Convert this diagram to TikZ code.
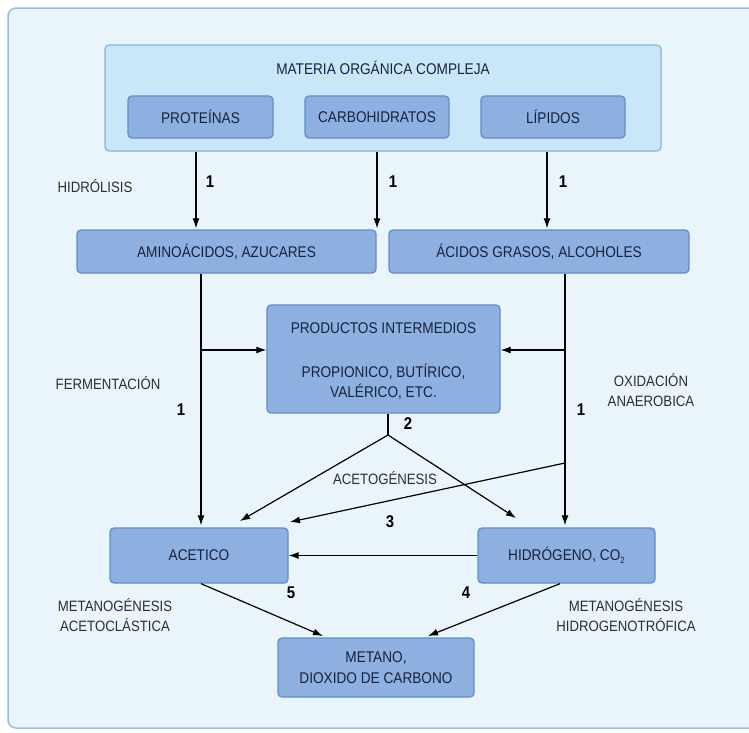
\documentclass[tikz,border=0pt]{standalone}
\usepackage{fontspec}
\setmainfont{Liberation Sans}[FakeStretch=0.88]
\usetikzlibrary{arrows.meta,calc}
\definecolor{framebg}{HTML}{EAF5FB}
\definecolor{framebd}{HTML}{8EC5D6}
\definecolor{matbg}{HTML}{C9E7F8}
\definecolor{matbd}{HTML}{86B7DA}
\definecolor{boxbg}{HTML}{8DB0E0}
\definecolor{boxbd}{HTML}{5F8FC8}
\definecolor{boxtxt}{HTML}{18213F}
\definecolor{lbltxt}{HTML}{2E2E2E}
\tikzset{
  stagebox/.style={draw=boxbd,fill=boxbg,line width=1.3pt,rounded corners=4pt,
    text=boxtxt,font=\fontsize{15.5}{18}\selectfont,align=center,inner sep=0pt},
  arr/.style={line width=1.2pt,-{Latex[length=10pt,width=7pt]}},
  plain/.style={line width=1.2pt},
  num/.style={font=\fontsize{17}{19}\selectfont\bfseries,text=black},
  lbl/.style={font=\fontsize{15}{20}\selectfont,text=lbltxt,align=center}
}
\begin{document}
\begin{tikzpicture}[x=1pt,y=-1pt]
\useasboundingbox (0,0) rectangle (749,732);
\fill[white] (0,0) rectangle (749,732);
\begin{scope}
\clip (0,0) rectangle (749,732);
\draw[draw=framebd,fill=framebg,line width=1.5pt,rounded corners=8pt] (8,8) rectangle (770,728);
\end{scope}
% big box
\node[draw=matbd,fill=matbg,line width=1.3pt,rounded corners=4pt,minimum width=556pt,minimum height=106pt,inner sep=0pt] (mat) at (383,98) {};
\node[text=boxtxt,font=\fontsize{15.5}{18}\selectfont] (matlbl) at (383,68) {MATERIA ORGÁNICA COMPLEJA};
\node[stagebox,minimum width=145pt,minimum height=42pt] (prot) at (200.5,117) {PROTEÍNAS};
\node[stagebox,minimum width=144pt,minimum height=42pt] (carb) at (377,117) {CARBOHIDRATOS};
\node[stagebox,minimum width=144pt,minimum height=42pt] (lip) at (553,117) {LÍPIDOS};
% second row
\node[stagebox,minimum width=299pt,minimum height=43pt] (amino) at (226.5,251.5) {AMINOÁCIDOS, AZUCARES};
\node[stagebox,minimum width=300pt,minimum height=43pt] (acid) at (539,251.5) {ÁCIDOS GRASOS, ALCOHOLES};
% intermediates
\node[stagebox,minimum width=233pt,minimum height=108pt] (prod) at (383.5,359) {};
\node[text=boxtxt,font=\fontsize{15.5}{18}\selectfont] (prodA) at (383.5,328) {PRODUCTOS INTERMEDIOS};
\node[text=boxtxt,font=\fontsize{15.5}{20}\selectfont,align=center] (prodB) at (383.5,382) {PROPIONICO, BUTÍRICO,\\VALÉRICO, ETC.};
% third row
\node[stagebox,minimum width=178pt,minimum height=55pt] (acet) at (199,555.5) {ACETICO};
\node[stagebox,minimum width=177pt,minimum height=55pt] (hidro) at (566.5,555.5) {HIDRÓGENO, CO\raisebox{-3pt}{\fontsize{9}{9}\selectfont 2}};
% final
\node[stagebox,minimum width=196pt,minimum height=59pt,font=\fontsize{15.5}{21}\selectfont] (met) at (376,667.5) {METANO,\\DIOXIDO DE CARBONO};
% coordinates
\coordinate (h1) at (196,0);
\coordinate (h2) at (377,0);
\coordinate (h3) at (547,0);
\coordinate (xa) at (201,0);
\coordinate (xb) at (565,0);
\coordinate (ja) at (201,350);
\coordinate (jb) at (565,350);
\coordinate (sp) at (388,435);
\coordinate (dg) at (565,463);
\coordinate (tl) at (240,521);
\coordinate (tr) at (516,518);
\coordinate (td) at (290,522);
\coordinate (ma) at (201,0);
\coordinate (mh) at (560,0);
\coordinate (mt1) at (323,636);
\coordinate (mt2) at (428,636);
% hydrolysis arrows
\draw[arr] (mat.south -| h1) -- ($(amino.north -| h1)+(0,-1)$);
\draw[arr] (mat.south -| h2) -- ($(amino.north -| h2)+(0,-1)$);
\draw[arr] (mat.south -| h3) -- ($(acid.north -| h3)+(0,-1)$);
% verticals
\draw[arr] (amino.south -| xa) -- ($(acet.north -| xa)+(0,-2)$);
\draw[arr] (acid.south -| xb) -- ($(hidro.north -| xb)+(0,-2)$);
\draw[arr] (ja) -- (prod.west |- ja);
\draw[arr] (jb) -- (prod.east |- jb);
% acetogenesis
\draw[plain] (prod.south -| sp) -- (sp);
\draw[arr] (sp) -- (tl);
\draw[arr] (sp) -- (tr);
\draw[arr] (dg) -- (td);
% H2 -> acetic
\draw[arr] (hidro.west) -- (acet.east);
% methanogenesis
\draw[arr] (acet.south -| ma) -- (mt1);
\draw[arr] (hidro.south -| mh) -- (mt2);
% numbers
\node[num] (n1a) at (210,182) {1};
\node[num] (n1b) at (393,182) {1};
\node[num] (n1c) at (563,182) {1};
\node[num] (n1d) at (181,410) {1};
\node[num] (n1e) at (581,410) {1};
\node[num] (n2) at (408,424) {2};
\node[num] (n3) at (390,522) {3};
\node[num] (n5) at (291,593) {5};
\node[num] (n4) at (466,593) {4};
% labels
\node[lbl] (l1) at (95,186) {HIDRÓLISIS};
\node[lbl] (l2) at (108,383) {FERMENTACIÓN};
\node[lbl] (l3) at (651,390) {OXIDACIÓN\\ANAEROBICA};
\node[lbl] (l4) at (385,478) {ACETOGÉNESIS};
\node[lbl] (l5) at (115,615) {METANOGÉNESIS\\ACETOCLÁSTICA};
\node[lbl] (l6) at (626,615) {METANOGÉNESIS\\HIDROGENOTRÓFICA};
\end{tikzpicture}
\end{document}
